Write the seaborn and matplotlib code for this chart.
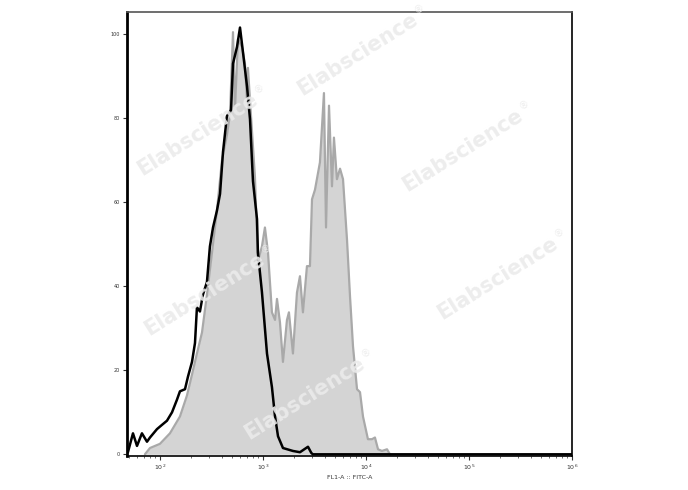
import numpy as np
import pandas as pd
import matplotlib
matplotlib.use("Agg")
import matplotlib.pyplot as plt
import seaborn as sns
from matplotlib.ticker import LogLocator, NullFormatter, FixedLocator

# ---- data (log10 of FL1-A intensity, event count scaled to max) ----
control_log = [1.689, 1.738, 1.777, 1.825, 1.874, 1.903, 1.971, 2.019, 2.068, 2.117,
               2.165, 2.194, 2.243, 2.272, 2.311, 2.340, 2.359, 2.388, 2.417, 2.456,
               2.485, 2.515, 2.553, 2.583, 2.612, 2.650, 2.690, 2.709, 2.748, 2.777,
               2.806, 2.845, 2.874, 2.893, 2.903, 2.942, 2.951, 2.990, 3.039, 3.087,
               3.117, 3.146, 3.194, 3.291, 3.359, 3.437, 3.470, 3.485, 6.0]
control_cnt = [0.5, 5, 2, 5, 3, 4, 6, 7, 8, 10,
               13, 15, 15.5, 18.5, 22, 26.5, 35, 34, 38, 41,
               49.5, 54, 58, 62, 72, 80.5, 82, 93, 97, 101.6,
               95.7, 87.6, 79.8, 70, 65, 56, 48, 38.6, 24, 16,
               9, 4.3, 1.5, 0.8, 0.5, 1.8, 0.3, 0, 0]

stained_log = [1.854, 1.903, 2.000, 2.097, 2.194, 2.262, 2.311, 2.359, 2.408, 2.456,
               2.505, 2.553, 2.602, 2.650, 2.680, 2.709, 2.728, 2.757, 2.796, 2.825,
               2.845, 2.854, 2.893, 2.922, 2.951, 2.990, 3.019, 3.049, 3.087, 3.117,
               3.136, 3.165, 3.194, 3.233, 3.252, 3.291, 3.330, 3.359, 3.388, 3.427,
               3.456, 3.476, 3.505, 3.553, 3.592, 3.612, 3.641, 3.670, 3.689, 3.718,
               3.748, 3.777, 3.816, 3.845, 3.874, 3.913, 3.942, 3.971, 4.019, 4.058,
               4.087, 4.117, 4.155, 4.204, 4.233]
stained_cnt = [0, 1.5, 2.5, 5, 9, 14, 19, 24, 29, 38,
               48, 58, 70, 76, 81, 100.5, 82, 98.8, 97, 93,
               84, 92, 77, 66, 46, 49.5, 54, 48, 33.8, 32,
               37, 31.4, 22, 32, 33.8, 24, 38.5, 42.4, 33.8, 44.8,
               44.8, 60.7, 63, 69.5, 86, 54, 83, 63.8, 75.4, 65.5,
               68, 65.5, 51, 37.6, 25.7, 15.5, 14.8, 9, 3.6, 3.6,
               4, 1.2, 0.8, 1.2, 0]

y_ticks = [0, 20, 40, 60, 80, 100]
x_decades = [2, 3, 4, 5, 6]
x_label = "FL1-A :: FITC-A"
watermark = "Elabscience"
watermark_mark = "\u00ae"

ctrl = pd.DataFrame({"x": np.power(10.0, control_log), "y": control_cnt})
stn = pd.DataFrame({"x": np.power(10.0, stained_log), "y": stained_cnt})

sns.set_style("white")
plt.rcParams['font.family'] = ['DejaVu Sans']

W, H = 688, 490
fig = plt.figure(figsize=(W / 100, H / 100), dpi=100)
ax = fig.add_axes([127 / W, 1 - 456 / H, 445 / W, 444 / H])

ax.fill_between(stn["x"], stn["y"], 0, color="#d4d4d4", linewidth=0, zorder=1)
sns.lineplot(data=stn, x="x", y="y", ax=ax, color="#a9a9a9", linewidth=1.6,
             sort=False, estimator=None, zorder=2)
sns.lineplot(data=ctrl, x="x", y="y", ax=ax, color="black", linewidth=1.8,
             sort=False, estimator=None, zorder=3)

ax.set_xscale("log")
ax.set_xlim(10 ** 1.68, 10 ** 6.0)
ax.set_ylim(-0.4, 105.3)

ax.set_yticks(y_ticks)
ax.set_yticklabels([str(v) for v in y_ticks], fontsize=3.5)
ax.xaxis.set_major_locator(FixedLocator([10.0 ** d for d in x_decades]))
ax.set_xticklabels([f"$10^{d}$" for d in x_decades], fontsize=4.5)
ax.xaxis.set_minor_locator(LogLocator(base=10, subs=np.arange(2, 10), numticks=20))
ax.xaxis.set_minor_formatter(NullFormatter())
ax.tick_params(axis="both", which="major", direction="out", length=3, width=0.8,
               colors="#333333", pad=2, left=True, bottom=True)
ax.tick_params(axis="x", which="minor", direction="out", length=1.5, width=0.6,
               colors="#555555", bottom=True)
ax.set_xlabel(x_label, fontsize=4.5, color="#333333", labelpad=2)
ax.set_ylabel("")

for s in ax.spines.values():
    s.set_visible(True)
    s.set_color("black")
    s.set_linewidth(1.2)
ax.spines["left"].set_linewidth(2.0)
ax.spines["top"].set_color("#555555")

# watermarks (figure pixel centres of the word)
wm_pos = [(198, 134), (358, 54), (463, 150), (205, 294), (305, 398), (498, 278)]
ang = 32.0
ca, sa = np.cos(np.radians(ang)), np.sin(np.radians(ang))
for (px, py) in wm_pos:
    cx, cy = px, H - py
    fig.text(cx / W, cy / H, watermark, fontsize=15, fontweight="bold",
             color="#ebebeb", alpha=0.9, rotation=ang, ha="center", va="center",
             zorder=10)
    rx = cx + 76 * ca - 6 * sa
    ry = cy + 76 * sa + 6 * ca
    fig.text(rx / W, ry / H, watermark_mark, fontsize=7,
             color="#ebebeb", alpha=0.9, rotation=ang, ha="center", va="center",
             zorder=10)

fig.savefig("out.png", dpi=100)
